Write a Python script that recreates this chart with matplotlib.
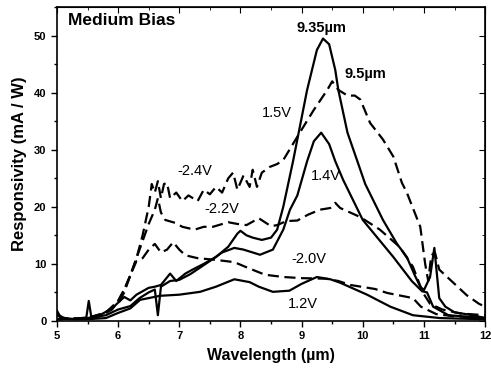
import matplotlib
matplotlib.use("Agg")
import matplotlib.pyplot as plt

plt.rcParams["font.family"] = ["Liberation Sans", "DejaVu Sans"]

# ---------------------------------------------------------
#  Data (wavelength um, responsivity mA/W)
# ---------------------------------------------------------

wl_15v = [5.0, 5.05, 5.1, 5.2, 5.3, 5.4, 5.48, 5.52, 5.56, 5.7, 5.9, 6.0, 6.1, 6.2,
          6.3, 6.4, 6.5, 6.6, 6.7, 6.85, 6.95, 7.1, 7.2, 7.4, 7.6, 7.8, 7.95, 8.0,
          8.1, 8.2, 8.35, 8.5, 8.6, 8.7, 8.86, 9.09, 9.25, 9.35, 9.45, 9.55, 9.6,
          9.75, 9.95, 10.04, 10.33, 10.56, 10.72, 10.85, 10.94, 11.0, 11.1, 11.17,
          11.25, 11.35, 11.5, 11.8, 12.0]
r_15v = [1.8, 0.8, 0.5, 0.4, 0.3, 0.5, 0.6, 3.5, 0.8, 1.0, 2.2, 3.2, 4.2, 3.6,
         4.6, 5.2, 5.8, 6.0, 6.3, 8.3, 7.0, 8.3, 8.9, 10.0, 11.2, 13.0, 15.3, 15.8,
         15.0, 14.6, 14.2, 14.6, 16.0, 20.0, 28.0, 40.5, 47.5, 49.5, 48.5, 44.0, 40.5,
         33.0, 26.8, 24.0, 17.7, 13.5, 11.2, 8.0, 6.0, 5.4, 7.7, 12.8,
         4.0, 2.5, 1.5, 1.0, 0.5]

wl_14v = [5.0, 5.1, 5.2, 5.5, 5.8, 6.0, 6.2, 6.35, 6.5, 6.6, 6.65, 6.7, 6.85, 7.0,
          7.18, 7.5, 7.7, 7.9, 8.05, 8.32, 8.53, 8.7, 8.81, 8.93, 9.09, 9.2, 9.32,
          9.45, 9.55, 9.68, 10.0, 10.5, 10.8, 10.97, 11.05, 11.15, 11.4, 12.0]
r_14v = [1.2, 0.6, 0.3, 0.5, 1.0, 2.0, 2.6, 4.0, 5.0, 5.5, 1.0, 6.0, 7.0, 7.2,
         8.2, 10.5, 12.0, 12.8, 12.5, 11.6, 12.5, 16.0, 19.5, 22.0, 28.0, 31.5, 33.0,
         31.0, 28.0, 24.7, 17.7, 11.2, 7.0, 5.2, 5.0, 2.5, 1.0, 0.5]

wl_12v = [5.0, 5.1, 5.3, 5.5, 5.8, 6.0, 6.2, 6.36, 6.5, 6.68, 7.0, 7.34, 7.6, 7.9,
          8.15, 8.3, 8.53, 8.8, 9.0, 9.25, 9.47, 9.63, 10.07, 10.45, 10.82, 11.26,
          11.6, 12.0]
r_12v = [1.0, 0.4, 0.3, 0.3, 0.5, 1.4, 2.2, 3.7, 4.0, 4.4, 4.6, 5.1, 6.0, 7.3,
         6.8, 6.0, 5.1, 5.3, 6.5, 7.7, 7.3, 6.7, 4.6, 2.5, 1.0, 0.5,
         0.4, 0.3]

wl_m24v = [5.0, 5.5, 5.8, 6.0, 6.1, 6.2, 6.3, 6.4, 6.5, 6.55, 6.6, 6.65, 6.7,
           6.75, 6.8, 6.85, 6.95, 7.05, 7.15, 7.3, 7.4, 7.5, 7.6, 7.7, 7.8, 7.88,
           7.95, 8.05, 8.15, 8.2, 8.27, 8.35, 8.48, 8.6, 8.7, 8.97, 9.2, 9.42, 9.5,
           9.6, 9.75, 9.87, 9.96, 10.12, 10.33, 10.5, 10.64, 10.72, 10.94, 11.02,
           11.07, 11.12, 11.18, 11.25, 11.35, 11.5, 11.7, 11.9, 12.0]
r_m24v = [0.3, 0.5, 1.5, 3.0, 5.0, 8.0, 11.0, 15.0, 20.0, 24.0, 22.5, 24.5, 21.5,
          24.0, 24.2, 21.5, 22.5, 21.0, 22.0, 21.0, 23.0, 22.2, 23.5, 22.5, 25.0, 26.0,
          23.0, 25.5, 23.5, 26.5, 23.5, 26.0, 27.0, 27.5, 28.2, 33.0, 37.0, 40.5, 42.0,
          40.5, 39.5, 39.5, 38.8, 34.7, 31.8, 28.8, 24.2, 22.5, 16.5, 10.0,
          7.0, 11.5, 12.0, 9.0, 8.0, 6.5, 4.5, 3.0, 2.5]

wl_m22v = [5.0, 5.5, 5.7, 5.9, 6.0, 6.1, 6.2, 6.3, 6.4, 6.5, 6.6, 6.65, 6.7, 6.77,
           6.93, 7.05, 7.25, 7.4, 7.55, 7.8, 7.95, 8.1, 8.3, 8.5, 8.6, 8.75, 8.93,
           9.1, 9.3, 9.47, 9.55, 9.63, 9.96, 10.28, 10.6, 10.82, 10.98, 11.1, 11.3,
           11.6, 12.0]
r_m22v = [0.3, 0.5, 0.8, 2.0, 3.5, 5.5, 8.0, 11.0, 14.0, 17.0, 19.5, 21.5, 19.0, 17.7,
          17.2, 16.5, 16.0, 16.5, 16.5, 17.3, 17.0, 16.8, 18.0, 16.6, 16.8, 17.5, 17.6,
          18.6, 19.5, 19.8, 20.7, 19.8, 18.2, 16.0, 13.0, 9.5, 5.0, 3.0, 2.0,
          1.3, 1.0]

wl_m20v = [5.0, 5.5, 5.8, 6.0, 6.1, 6.2, 6.3, 6.4, 6.5, 6.6, 6.7, 6.8, 6.9, 7.0,
           7.1, 7.3, 7.6, 7.9, 8.1, 8.4, 8.7, 9.0, 9.4, 9.6, 9.8, 10.2, 10.4, 10.82,
           10.95, 11.2, 11.5, 12.0]
r_m20v = [0.3, 0.4, 1.5, 3.5, 5.5, 8.0, 10.5, 11.0, 12.5, 13.5, 12.0, 12.5, 13.8, 12.5,
          11.5, 11.0, 10.7, 10.3, 9.4, 8.1, 7.7, 7.5, 7.4, 7.0, 6.3, 5.6, 4.9, 4.0,
          2.5, 1.2, 0.8, 0.5]

# labels: (text, x, y, bold)
curve_labels = [
    ("-2.4V", 7.26, 26.3, False),
    ("-2.2V", 7.70, 19.6, False),
    ("-2.0V", 9.12, 10.9, False),
    ("1.5V", 8.60, 36.5, False),
    ("1.4V", 9.40, 25.4, False),
    ("1.2V", 9.02, 3.0, False),
    ("9.35\u00b5m", 9.33, 51.4, True),
    ("9.5\u00b5m", 10.05, 43.3, True),
]


def main() -> None:
    fig = plt.figure(figsize=(4.91, 3.78), dpi=100)
    ax = fig.add_axes([0.116, 0.151, 0.872, 0.830])

    solid = dict(color="black", lw=1.6, ls="-")
    dashed = dict(color="black", lw=1.6, ls=(0, (5, 2.5)))

    ax.plot(wl_15v, r_15v, **solid)
    ax.plot(wl_14v, r_14v, **solid)
    ax.plot(wl_12v, r_12v, **solid)
    ax.plot(wl_m24v, r_m24v, **dashed)
    ax.plot(wl_m22v, r_m22v, **dashed)
    ax.plot(wl_m20v, r_m20v, **dashed)

    for text, x, y, bold in curve_labels:
        ax.text(x, y, text, ha="center", va="center", fontsize=10.5,
                fontweight="bold" if bold else "normal")

    ax.text(5.18, 52.6, "Medium Bias", ha="left", va="center",
            fontsize=12.5, fontweight="bold")

    ax.set_xlim(5, 12)
    ax.set_ylim(0, 55)
    ax.set_xticks(range(5, 13))
    ax.set_xticks([5.5 + i for i in range(7)], minor=True)
    ax.set_yticks([0, 10, 20, 30, 40, 50])
    ax.set_yticks([5, 15, 25, 35, 45, 55], minor=True)

    ax.tick_params(which="major", direction="out", length=4, width=1,
                   labelsize=8)
    ax.tick_params(which="minor", direction="out", length=2.5, width=1)
    for lab in ax.get_xticklabels() + ax.get_yticklabels():
        lab.set_fontweight("bold")

    top = ax.secondary_xaxis("top")
    top.set_xticks(range(5, 13))
    top.set_xticks([5.5 + i for i in range(7)], minor=True)
    top.tick_params(which="both", direction="in", labeltop=False)
    top.tick_params(which="major", length=4)
    top.tick_params(which="minor", length=2.5)

    right = ax.secondary_yaxis("right")
    right.set_yticks([0, 10, 20, 30, 40, 50])
    right.set_yticks([5, 15, 25, 35, 45, 55], minor=True)
    right.tick_params(which="both", direction="in", labelright=False)
    right.tick_params(which="major", length=4)
    right.tick_params(which="minor", length=2.5)

    for sp in ax.spines.values():
        sp.set_linewidth(1.2)

    ax.set_xlabel("Wavelength (\u00b5m)", fontsize=11.5, fontweight="bold",
                  labelpad=5)
    ax.set_ylabel("Responsivity (mA / W)", fontsize=12, fontweight="bold",
                  labelpad=5)

    fig.savefig("out.png", dpi=100)


if __name__ == "__main__":
    main()
